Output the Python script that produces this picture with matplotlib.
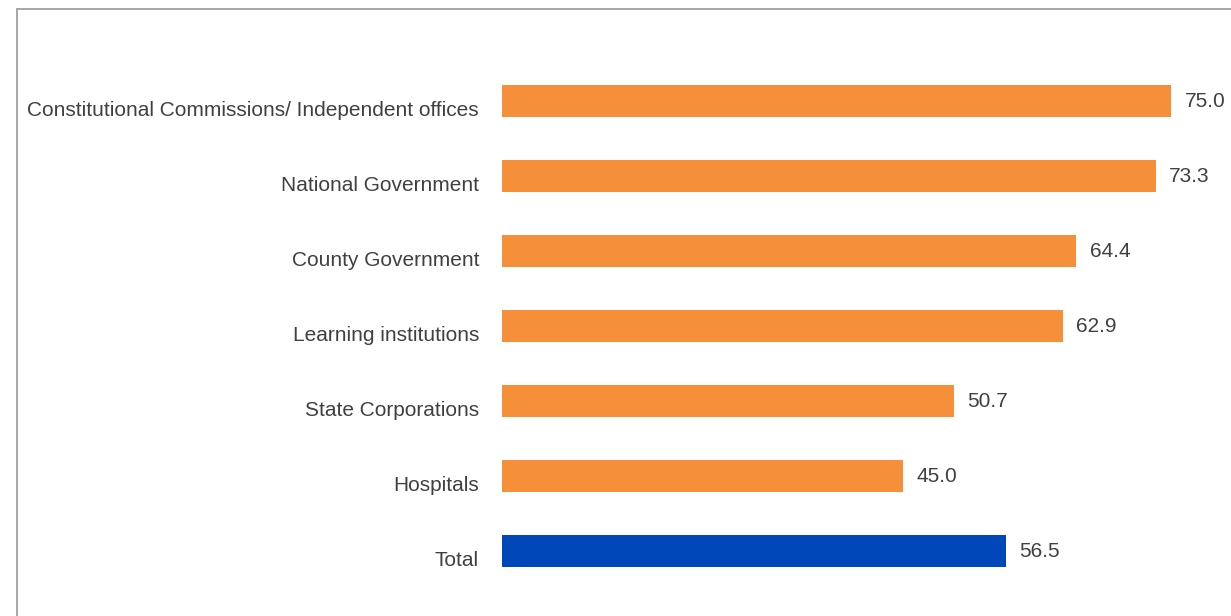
import matplotlib.pyplot as plt
import matplotlib.patches as mpatches
from matplotlib.transforms import ScaledTranslation

# categories, top to bottom
sectors = ["Constitutional Commissions/ Independent offices",
           "National Government",
           "County Government",
           "Learning institutions",
           "State Corporations",
           "Hospitals",
           "Total"]
scores = [75.0, 73.3, 64.4, 62.9, 50.7, 45.0, 56.5]

orange = "#F58F3A"
blue = "#0047BA"
colors = [orange] * 6 + [blue]

plt.rcParams["font.family"] = ["Liberation Sans", "DejaVu Sans"]

W, H = 1231, 616
fig = plt.figure(figsize=(W / 100, H / 100), dpi=100)

# axes placed in pixel terms: bars start at x=502, 0..82 on the x axis
left, right = 502, 502 + 82 * 8.92
top, bottom = 63.5, 588.5
ax = fig.add_axes([left / W, 1 - bottom / H, (right - left) / W, (bottom - top) / H])

ypos = list(range(len(sectors)))
ax.barh(ypos, scores, height=0.43, color=colors)
for y, v in zip(ypos, scores):
    ax.text(v + 1.5, y, f"{v:.1f}", va="center", ha="left",
            fontsize=15, color="#404040", clip_on=False)

ax.set_xlim(0, 82)
ax.set_ylim(6.5, -0.5)
ax.set_yticks(ypos)
ax.set_yticklabels(sectors, fontsize=15, color="#404040")
ax.tick_params(axis="y", length=0, pad=16.5)
ax.set_xticks([])
for s in ax.spines.values():
    s.set_visible(False)

# category names sit a little below the bar centres
shift = ScaledTranslation(0, -7 / 100, fig.dpi_scale_trans)
for lab in ax.get_yticklabels():
    lab.set_transform(lab.get_transform() + shift)

# grey frame, runs off the right and bottom edges
frame = mpatches.Rectangle((16.5 / W, -0.1), 1.2, 1.1 - 8.5 / H,
                           transform=fig.transFigure, fill=False,
                           edgecolor="#A0A0A0", linewidth=1.3)
fig.patches.append(frame)

fig.savefig("out.png", dpi=100)
